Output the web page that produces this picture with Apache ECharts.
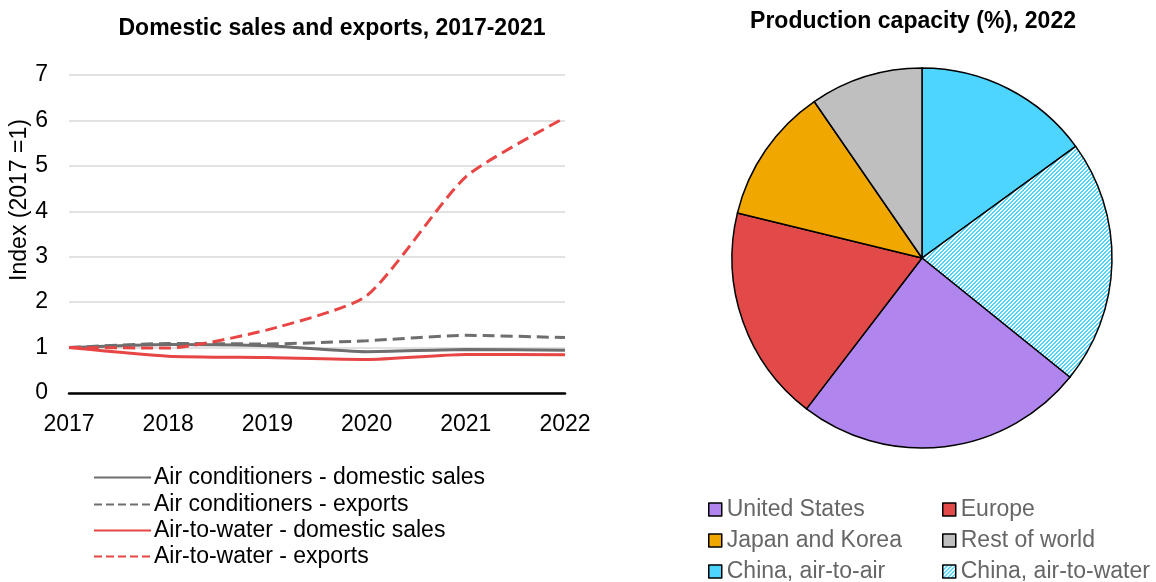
<!DOCTYPE html>
<html><head><meta charset="utf-8">
<script src="https://cdn.jsdelivr.net/npm/echarts@6/dist/echarts.min.js"></script>
<style>html,body{margin:0;padding:0;background:#fff}#c{width:1156px;height:582px}</style>
</head><body><div id="c"></div>
<script>
var years = ['2017','2018','2019','2020','2021','2022'];
var acDomestic = [1.0, 1.07, 1.04, 0.91, 0.96, 0.94];
var acExports = [1.0, 1.09, 1.08, 1.15, 1.27, 1.22];
var atwDomestic = [1.0, 0.81, 0.78, 0.74, 0.85, 0.84];
var atwExports = [1.0, 0.99, 1.39, 2.14, 4.76, 6.06];
var lineNames = ['Air conditioners - domestic sales','Air conditioners - exports','Air-to-water - domestic sales','Air-to-water - exports'];

var pieNames = ['China, air-to-air','China, air-to-water','United States','Europe','Japan and Korea','Rest of world'];
var pieValues = [15.0, 20.8, 24.6, 18.4, 11.6, 9.6];
var pieLegendOrder = ['United States','Europe','Japan and Korea','Rest of world','China, air-to-air','China, air-to-water'];

// hatch pattern
var pc = document.createElement('canvas');
pc.width = 4; pc.height = 4;
var pctx = pc.getContext('2d');
var img = pctx.createImageData(4,4);
for (var y=0;y<4;y++) for (var x=0;x<4;x++){
  var i=(y*4+x)*4; var on=((x+y)%4)<2;
  img.data[i]=on?0x4D:255; img.data[i+1]=on?0xD4:255; img.data[i+2]=on?0xFF:255; img.data[i+3]=255;
}
pctx.putImageData(img,0,0);
var hatch = {image: pc, repeat: 'repeat'};
var pieColors = ['#4DD4FF', hatch, '#B086EE', '#E24A4A', '#F0A800', '#BFBFBF'];

var ff = 'Liberation Sans, Arial, sans-serif';
var FS = 23;
var chart = echarts.init(document.getElementById('c'), null, {renderer:'canvas'});
var gray = '#6E6E6E', red = '#E84545';
var lineStyles = [
  {color: gray, type:'solid'}, {color: gray, type:'dashed'},
  {color: red, type:'solid'}, {color: red, type:'dashed'}
];
var lineData = [acDomestic, acExports, atwDomestic, atwExports];
var series = lineNames.map(function(n,k){
  return {name:n, type:'line', data: lineData[k], symbol:'none', smooth:0.2,
    color: lineStyles[k].color,
    lineStyle:{width:3, color: lineStyles[k].color, type: lineStyles[k].type}};
});
series.push({
  type:'pie', center:[922,258], radius:190, startAngle:90, clockwise:true,
  label:{show:false}, labelLine:{show:false}, silent:true, animation:false,
  itemStyle:{borderColor:'#000', borderWidth:1.5},
  data: pieNames.map(function(n,k){ return {name:n, value:pieValues[k], itemStyle:{color:pieColors[k]}}; })
});

var legends = [];
var lineRows = [476, 503, 529, 555];
lineNames.forEach(function(n,k){
  legends.push({data:[n], left:93, top:lineRows[k]-10, padding:0, itemWidth:57, itemHeight:3,
    itemStyle:{opacity:0}, selectedMode:false,
    textStyle:{fontFamily:ff, fontSize:FS, color:'#000', padding:[0,0,0,-2]}});
});
var pieRows = [508, 539, 570];
var pieCols = [708, 942];
pieLegendOrder.forEach(function(n,k){
  legends.push({data:[n], left:pieCols[k%2], top:pieRows[Math.floor(k/2)]-10, padding:0,
    icon:'rect', itemWidth:13, itemHeight:13, selectedMode:false,
    itemStyle:{borderColor:'#000', borderWidth:1.5},
    textStyle:{fontFamily:ff, fontSize:FS, color:'#666', padding:[0,0,0,0]}});
});

chart.setOption({
  animation:false,
  title:[
    {text:'Domestic sales and exports, 2017-2021', left:332, top:17, textAlign:'center', padding:0,
     textStyle:{fontFamily:ff, fontSize:FS, fontWeight:'bold', color:'#000'}},
    {text:'Production capacity (%), 2022', left:913, top:10, textAlign:'center', padding:0,
     textStyle:{fontFamily:ff, fontSize:FS, fontWeight:'bold', color:'#000'}}
  ],
  grid:{left:69, right:591, top:75, bottom:189, containLabel:false},
  xAxis:{type:'category', data:years, boundaryGap:false,
    axisLine:{lineStyle:{color:'#000', width:2.5}}, axisTick:{show:false},
    axisLabel:{fontFamily:ff, fontSize:FS, color:'#000', margin:20}},
  yAxis:{type:'value', min:0, max:7, interval:1,
    axisLine:{show:false}, axisTick:{show:false},
    axisLabel:{fontFamily:ff, fontSize:FS, color:'#000', margin:21},
    splitLine:{lineStyle:{color:'#D9D9D9', width:1.5}}},
  graphic:[{type:'text', x:20, y:200, rotation:Math.PI/2,
    style:{text:'Index (2017 =1)', font:FS+'px '+ff, fill:'#000', align:'center', verticalAlign:'middle'}}],
  legend: legends,
  series: series
});
</script></body></html>
